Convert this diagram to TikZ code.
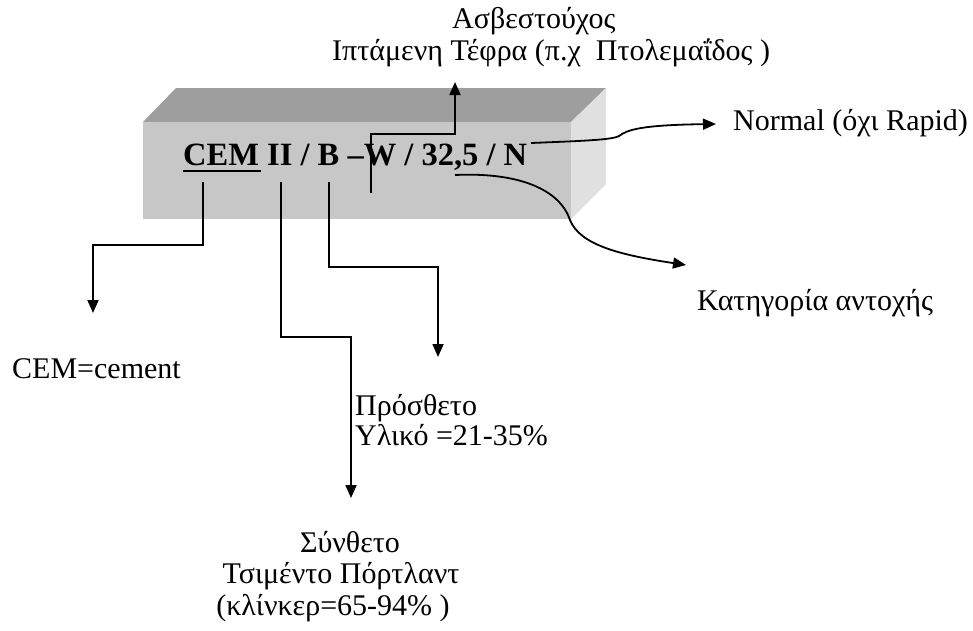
\documentclass[tikz,border=0pt]{standalone}
\usepackage{fontspec}
\setmainfont{Liberation Serif}
\usetikzlibrary{arrows.meta}
\begin{document}
\begin{tikzpicture}[x=1pt,y=-1pt,
  lbl/.style={inner sep=0pt,font=\fontsize{30}{32}\selectfont},
  conn/.style={line width=1.8pt,-{Triangle[length=13pt,width=11pt]}},
  plain/.style={line width=1.8pt}]
\useasboundingbox (0,0) rectangle (973,630);
% 3D bar
\fill[fill=black!38] (143,122) -- (176,88) -- (606,88) -- (571,122) -- cycle;
\fill[fill=black!12] (571,122) -- (606,88) -- (606,184) -- (571,219) -- cycle;
\fill[fill=black!22] (143,122) rectangle (571,219);
% code text
\node[lbl,anchor=base west,font=\fontsize{32.5}{32}\selectfont\bfseries] (code) at (183,165) {CEM II / B –W / 32,5 / N};
\draw[line width=2.4pt] (183,171) -- (261,171);
% coordinates
\coordinate (cemS) at (203,182);
\coordinate (iiS) at (281,182);
\coordinate (bS) at (329,182);
\coordinate (wS) at (371,193);
\coordinate (nS) at (531,143);
\coordinate (sS) at (455,175);
\coordinate (cemE) at (93,313);
\coordinate (iiE) at (351,498);
\coordinate (bE) at (438,357);
\coordinate (wE) at (455,82);
\coordinate (nE) at (716,124);
\coordinate (sE) at (686,265);
% labels
\node[lbl,anchor=base west] (asv) at (452,28) {Ασβεστούχος};
\node[lbl,anchor=base west] (ipt) at (332,60) {Ιπτάμενη Τέφρα (π.χ\ \ Πτολεμαΐδος )};
\node[lbl,anchor=base west] (norm) at (733,130) {Normal (όχι Rapid)};
\node[lbl,anchor=base west] (kat) at (697,310) {Κατηγορία αντοχής};
\node[lbl,anchor=base west] (cem) at (12,378) {CEM=cement};
\node[lbl,anchor=base west] (pros1) at (355,415) {Πρόσθετο};
\node[lbl,anchor=base west] (pros2) at (355,445) {Υλικό =21-35\%};
\node[lbl,anchor=base] (syn1) at (350,552) {Σύνθετο};
\node[lbl,anchor=base] (syn2) at (341,583) {Τσιμέντο Πόρτλαντ};
\node[lbl,anchor=base] (syn3) at (333,615) {(κλίνκερ=65-94\% )};
% connectors
\draw[conn] (cemS) -- (203,245) -| (cemE);
\draw[conn] (iiS) -- (281,337) -| (iiE);
\draw[conn] (bS) -- (329,267) -| (bE);
\draw[conn] (wS) -- (371,134) -| (wE);
\draw[conn] (nS) .. controls (580,141) and (612,140) .. (619,136)
   .. controls (627,130) and (640,125) .. (nE);
\draw[conn] (sS) .. controls (520,172) and (560,190) .. (570,220)
   .. controls (580,245) and (620,255) .. (sE);
\end{tikzpicture}
\end{document}
